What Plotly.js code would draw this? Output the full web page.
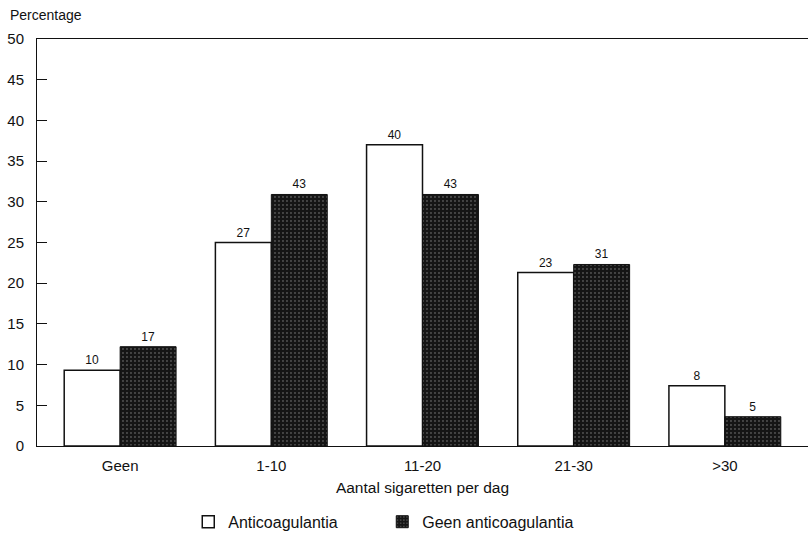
<!DOCTYPE html>
<html>
<head>
<meta charset="utf-8">
<script src="https://cdn.plot.ly/plotly-3.0.1.min.js"></script>
<style>
  html, body { margin: 0; padding: 0; background: #fff; }
  #chart { width: 808px; height: 533px; }
</style>
</head>
<body>
<div id="chart"></div>
<script>
// Smoking categories (cigarettes per day)
const categories = ['Geen', '1-10', '11-20', '21-30', '>30'];

// Percentage of each group per category
const pctAnticoag = [9.3, 25.0, 37.0, 21.3, 7.4];
const pctGeenAnticoag = [12.2, 30.9, 30.9, 22.3, 3.6];

// Number of persons shown above each bar
const nAnticoag = [10, 27, 40, 23, 8];
const nGeenAnticoag = [17, 43, 43, 31, 5];

const seriesNames = ['Anticoagulantia', 'Geen anticoagulantia'];

const baseFont = { family: 'Liberation Sans, Arial, Helvetica, sans-serif', color: '#111' };

const traces = [
  {
    type: 'bar',
    name: seriesNames[0],
    x: categories,
    y: pctAnticoag,
    customdata: nAnticoag,
    texttemplate: '%{customdata}',
    textposition: 'outside',
    cliponaxis: false,
    textfont: Object.assign({}, baseFont, { size: 12 }),
    marker: { color: '#ffffff', line: { color: '#111', width: 1.5 } },
    hoverinfo: 'skip'
  },
  {
    type: 'bar',
    name: seriesNames[1],
    x: categories,
    y: pctGeenAnticoag,
    customdata: nGeenAnticoag,
    texttemplate: '%{customdata}',
    textposition: 'outside',
    cliponaxis: false,
    textfont: Object.assign({}, baseFont, { size: 12 }),
    marker: {
      color: '#151515',
      line: { color: '#111', width: 1 },
      pattern: { shape: '.', fgcolor: '#8a8a8a', bgcolor: '#151515', size: 4, solidity: 0.1, fillmode: 'replace' }
    },
    hoverinfo: 'skip'
  }
];

const layout = {
  width: 808,
  height: 533,
  margin: { l: 37, r: 0, t: 39, b: 87, autoexpand: false },
  paper_bgcolor: '#fff',
  plot_bgcolor: '#fff',
  font: Object.assign({}, baseFont, { size: 15 }),
  barmode: 'group',
  bargap: 0.26,
  bargroupgap: 0,
  showlegend: true,
  legend: {
    orientation: 'h',
    xref: 'container',
    yref: 'container',
    x: 0.233,
    xanchor: 'left',
    y: 0.021,
    yanchor: 'middle',
    font: Object.assign({}, baseFont, { size: 16 }),
    traceorder: 'normal',
    entrywidth: 149
  },
  xaxis: {
    type: 'category',
    range: [-0.55, 4.55],
    automargin: false,
    showline: true,
    mirror: true,
    linecolor: '#111',
    linewidth: 1,
    ticks: '',
    ticklabelstandoff: 6,
    showgrid: false,
    zeroline: false,
    tickfont: Object.assign({}, baseFont, { size: 15 }),
    title: { text: 'Aantal sigaretten per dag', font: Object.assign({}, baseFont, { size: 15.5 }), standoff: 9 }
  },
  yaxis: {
    range: [0, 50],
    dtick: 5,
    tick0: 0,
    automargin: false,
    showline: true,
    linecolor: '#111',
    linewidth: 1,
    ticks: 'inside',
    ticklen: 10,
    tickcolor: '#111',
    ticklabelstandoff: 9,
    showgrid: false,
    zeroline: false,
    tickfont: Object.assign({}, baseFont, { size: 15 })
  },
  annotations: [
    {
      text: 'Percentage',
      xref: 'paper', yref: 'paper',
      x: -0.038, xanchor: 'left',
      y: 1.059, yanchor: 'middle',
      showarrow: false,
      font: Object.assign({}, baseFont, { size: 14 })
    }
  ]
};

Plotly.newPlot('chart', traces, layout, { displayModeBar: false, staticPlot: true });
</script>
</body>
</html>
